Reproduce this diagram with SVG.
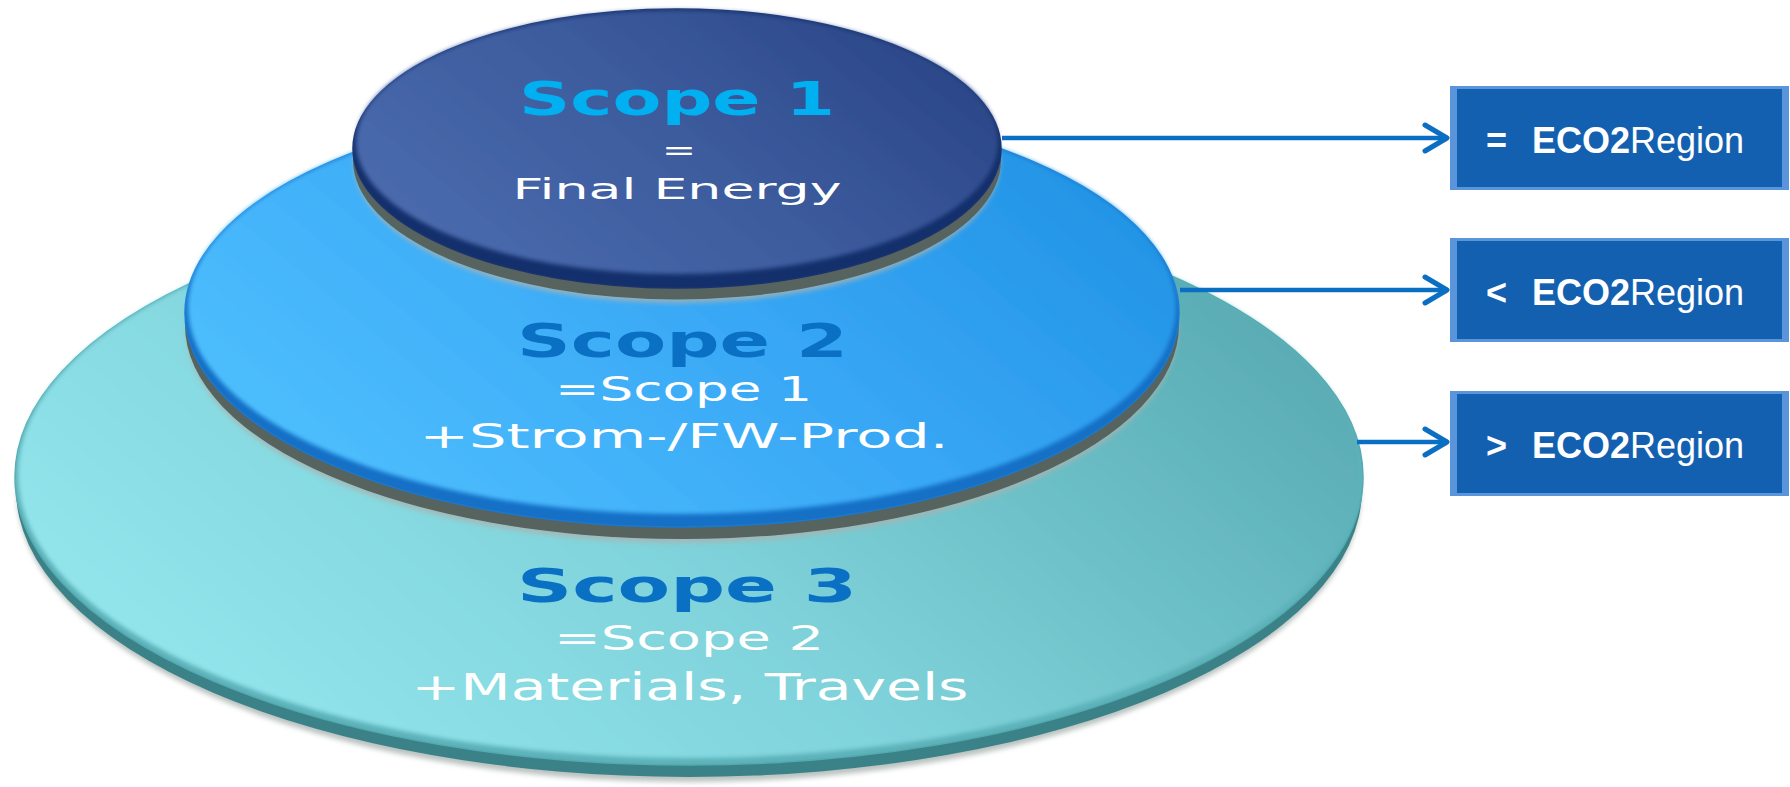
<svg xmlns="http://www.w3.org/2000/svg" width="1790" height="787" viewBox="0 0 1790 787">
<style>
.title{font-family:"DejaVu Sans",Verdana,sans-serif;font-weight:bold;font-size:47px;text-anchor:middle}
.sub{font-family:"DejaVu Sans",Verdana,sans-serif;fill:#ffffff;text-anchor:middle}
.conn{stroke:#0a6fc2;stroke-width:4.5;fill:none;marker-end:url(#ah)}
.boxo{fill:#5a95dc}
.boxi{fill:#1460b0}
.btxt{font-family:"Liberation Sans",Arial,sans-serif;font-size:36px;fill:#ffffff}
.b{font-weight:bold}
.rim{fill:#56635f}
.halo{fill:#a9b3b1;opacity:0.8}
</style>
<defs>
<linearGradient id="f3" x1="0" y1="0.75" x2="1" y2="0.25">
<stop offset="0" stop-color="#94e7ed"/><stop offset="0.45" stop-color="#7fd2da"/><stop offset="1" stop-color="#56a8b0"/>
</linearGradient>
<linearGradient id="f2" x1="0" y1="0.75" x2="1" y2="0.25">
<stop offset="0" stop-color="#4fc0fe"/><stop offset="0.5" stop-color="#3aa9f6"/><stop offset="1" stop-color="#2192e4"/>
</linearGradient>
<linearGradient id="f1" x1="0" y1="0.75" x2="1" y2="0.25">
<stop offset="0" stop-color="#4a6bae"/><stop offset="0.5" stop-color="#3d5c9e"/><stop offset="1" stop-color="#2a4687"/>
</linearGradient>
<filter id="blur" x="-5%" y="-10%" width="110%" height="125%"><feGaussianBlur stdDeviation="2.5"/></filter>
<filter id="soft" x="-5%" y="-10%" width="110%" height="125%"><feGaussianBlur stdDeviation="2"/></filter>
<marker id="ah" markerUnits="userSpaceOnUse" viewBox="-28 -18 34 36" refX="0" refY="0" markerWidth="34" markerHeight="36" orient="auto">
<path d="M-22,-13 L0,0 L-22,13" fill="none" stroke="#0a6fc2" stroke-width="5" stroke-linecap="round" stroke-linejoin="round"/>
</marker>
</defs>

<g id="scope3">
<ellipse class="halo" cx="689" cy="493" rx="672" ry="289" filter="url(#blur)"/>
<ellipse cx="689" cy="489" rx="673" ry="288" fill="#3b8288"/>
<ellipse cx="689" cy="477" rx="674" ry="288" fill="#5db2b9" stroke="#54aab2" stroke-width="1.5"/>
<ellipse cx="689" cy="474" rx="671" ry="284" fill="url(#f3)" filter="url(#soft)"/>
<text class="title" x="687" y="602" fill="#0a70c4" textLength="340" lengthAdjust="spacingAndGlyphs">Scope 3</text>
<text class="sub" x="689" y="650" font-size="34" textLength="270" lengthAdjust="spacingAndGlyphs">=Scope 2</text>
<text class="sub" x="690" y="700" font-size="37" textLength="557" lengthAdjust="spacingAndGlyphs">+Materials, Travels</text>
</g>

<g id="scope2">
<ellipse class="halo" cx="682" cy="329" rx="496" ry="214" filter="url(#blur)"/>
<ellipse class="rim" cx="682" cy="325" rx="497" ry="214"/>
<ellipse cx="682" cy="313" rx="497" ry="214" fill="#1570c6" stroke="#1a7ad0" stroke-width="1.5"/>
<ellipse cx="682" cy="307" rx="494" ry="207" fill="url(#f2)" filter="url(#soft)"/>
<text class="title" x="682.5" y="357" fill="#0a70c4" textLength="331" lengthAdjust="spacingAndGlyphs">Scope 2</text>
<text class="sub" x="683.5" y="401" font-size="33" textLength="257" lengthAdjust="spacingAndGlyphs">=Scope 1</text>
<text class="sub" x="684" y="448" font-size="34" textLength="529" lengthAdjust="spacingAndGlyphs">+Strom-/FW-Prod.</text>
</g>

<g id="scope1">
<ellipse class="halo" cx="677" cy="163" rx="323" ry="140" filter="url(#blur)"/>
<ellipse class="rim" cx="677" cy="160" rx="324" ry="139.5"/>
<ellipse cx="677" cy="148.5" rx="324" ry="139.5" fill="#14306c" stroke="#1a336f" stroke-width="1.5"/>
<ellipse cx="677" cy="142" rx="321" ry="132" fill="url(#f1)" filter="url(#soft)"/>
<text class="title" x="677" y="115" fill="#00b0f0" font-size="46" textLength="316" lengthAdjust="spacingAndGlyphs">Scope 1</text>
<text class="sub" x="679" y="160" font-size="29" textLength="34" lengthAdjust="spacingAndGlyphs">=</text>
<text class="sub" x="677" y="199" font-size="29" textLength="329" lengthAdjust="spacingAndGlyphs">Final Energy</text>
</g>

<g id="connectors">
<line class="conn" x1="1002" y1="138" x2="1447" y2="138"/>
<line class="conn" x1="1180" y1="290" x2="1447" y2="290"/>
<line class="conn" x1="1357" y1="442" x2="1447" y2="442"/>
</g>

<g id="box1">
<rect class="boxo" x="1450" y="86" width="339" height="104"/>
<rect class="boxi" x="1457" y="89" width="325" height="98"/>
<text class="btxt" x="1486" y="153"><tspan class="b">=</tspan><tspan class="b" x="1532">ECO2</tspan><tspan>Region</tspan></text>
</g>
<g id="box2">
<rect class="boxo" x="1450" y="238" width="339" height="104"/>
<rect class="boxi" x="1457" y="241" width="325" height="98"/>
<text class="btxt" x="1486" y="305"><tspan class="b">&lt;</tspan><tspan class="b" x="1532">ECO2</tspan><tspan>Region</tspan></text>
</g>
<g id="box3">
<rect class="boxo" x="1450" y="391" width="339" height="105"/>
<rect class="boxi" x="1457" y="394" width="325" height="99"/>
<text class="btxt" x="1486" y="458"><tspan class="b">&gt;</tspan><tspan class="b" x="1532">ECO2</tspan><tspan>Region</tspan></text>
</g>
</svg>
